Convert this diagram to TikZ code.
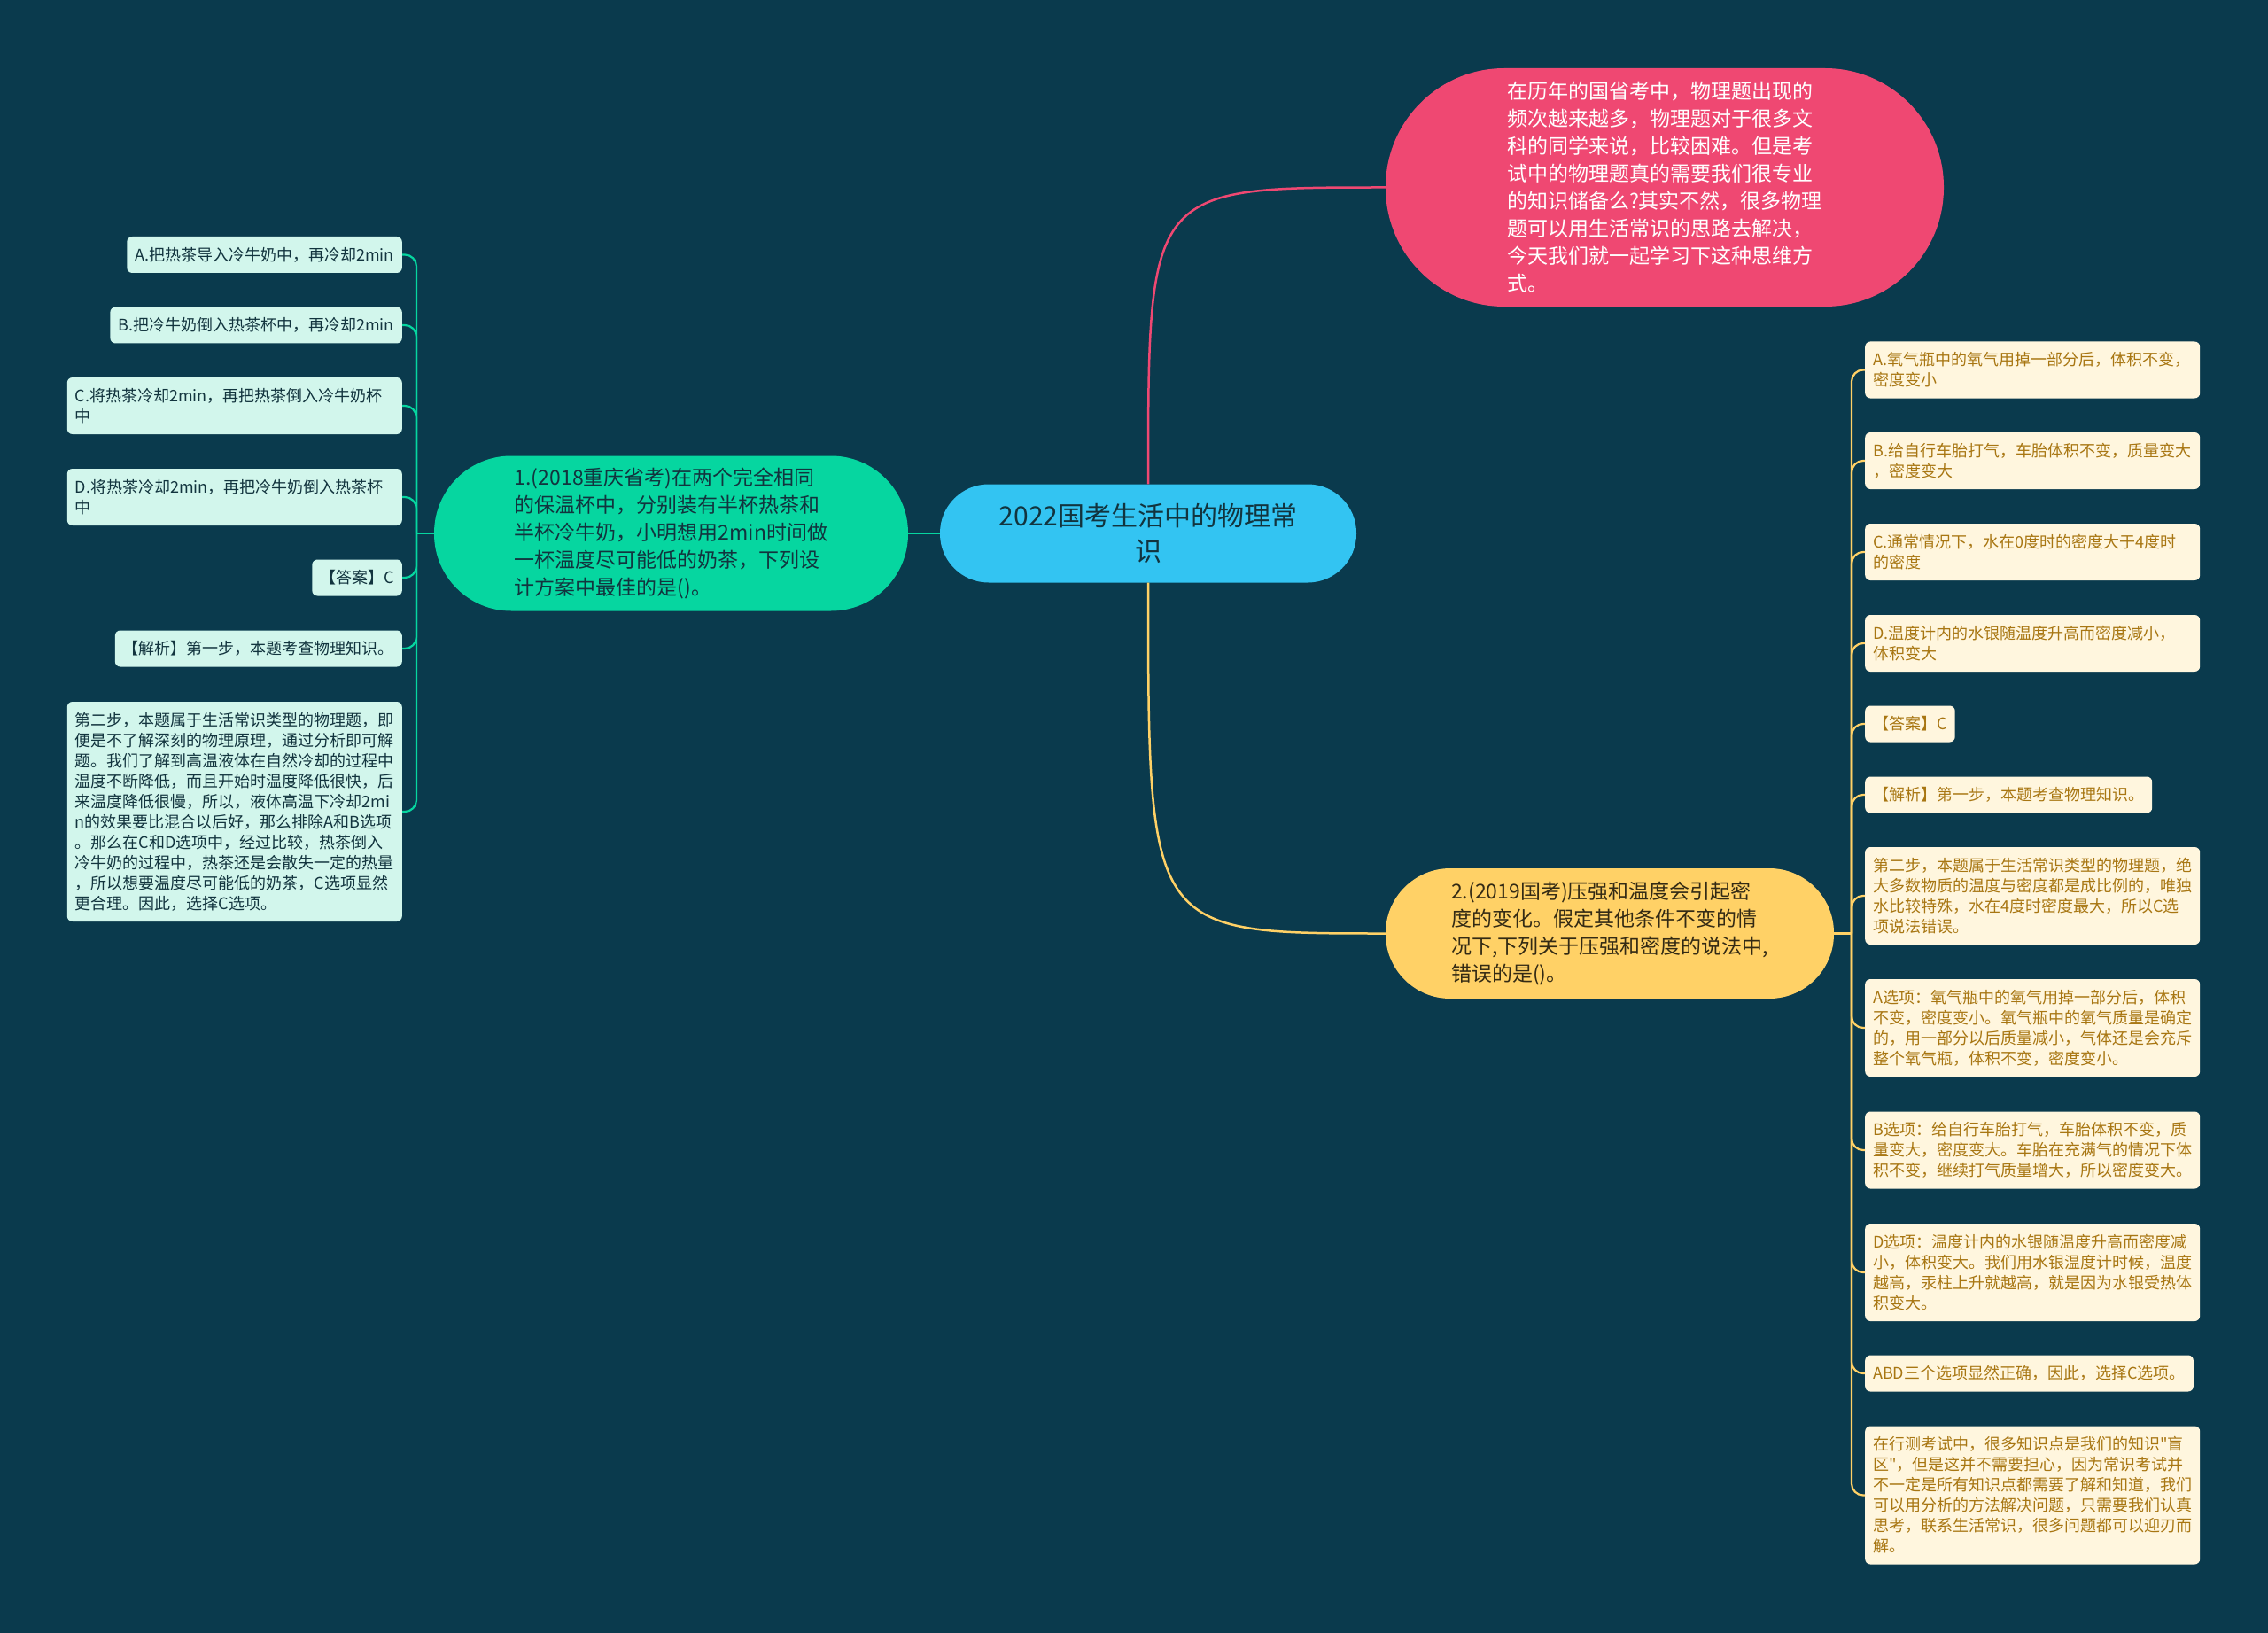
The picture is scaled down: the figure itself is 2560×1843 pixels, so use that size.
\documentclass[tikz,border=0pt]{standalone}
\usepackage{fontspec}
\setmainfont{Noto Sans CJK SC}[Ligatures=TeXOff]
\usepackage{tikz}

\definecolor{bgcol}{RGB}{10,58,77}
\definecolor{rootcol}{RGB}{51,196,242}
\definecolor{pinkcol}{RGB}{239,72,114}
\definecolor{greencol}{RGB}{6,214,160}
\definecolor{yellowcol}{RGB}{255,209,102}
\definecolor{mintcol}{RGB}{210,246,236}
\definecolor{creamcol}{RGB}{255,246,222}
\definecolor{darktext}{RGB}{18,52,62}
\definecolor{goldtext}{RGB}{168,118,18}

\begin{document}
\begin{tikzpicture}[
x=1pt, y=-1pt,
topic/.style={rectangle, inner sep=0pt, align=left, font=\fontsize{23}{31}\selectfont},
leaf/.style={rectangle, rounded corners=6pt, inner xsep=9pt, inner ysep=0pt, align=left,
  font=\fontsize{18}{23}\selectfont, minimum height={(23*#1+18)*1pt}},
leafL/.style={leaf=#1, fill=mintcol, text=darktext, anchor=east},
leafR/.style={leaf=#1, fill=creamcol, text=goldtext, anchor=west},
wide/.style={text width=360pt},
greenline/.style={draw=greencol, line width=2.5pt},
yellowline/.style={draw=yellowcol, line width=2.5pt},
pinkline/.style={draw=pinkcol, line width=2.5pt},
twig/.style={line width=2.2pt, rounded corners=13pt}
]
\fill[bgcol] (0,0) rectangle (2560,1843);

% main topics
\node[topic, fill=rootcol, text=darktext, align=center, minimum width=470pt, minimum height=111pt,
  rounded corners=55pt, font=\fontsize{30}{40}\selectfont] (root) at (1296,602)
  {2022国考生活中的物理常\\识};
\node[topic, fill=pinkcol, text=white, minimum width=630pt, minimum height=269pt,
  rounded corners=134pt] (intro) at (1879,211.5)
  {在历年的国省考中，物理题出现的\\频次越来越多，物理题对于很多文\\科的同学来说，比较困难。但是考\\试中的物理题真的需要我们很专业\\的知识储备么?其实不然，很多物理\\题可以用生活常识的思路去解决，\\今天我们就一起学习下这种思维方\\式。};
\node[topic, fill=greencol, text=darktext, minimum width=535pt, minimum height=175pt,
  rounded corners=87pt] (q1) at (757.5,602)
  {1.(2018重庆省考)在两个完全相同\\的保温杯中，分别装有半杯热茶和\\半杯冷牛奶，小明想用2min时间做\\一杯温度尽可能低的奶茶，下列设\\计方案中最佳的是()。};
\node[topic, fill=yellowcol, text=black!80!yellowcol, minimum width=506pt, minimum height=147pt,
  rounded corners=73pt] (q2) at (1817,1053.5)
  {2.(2019国考)压强和温度会引起密\\度的变化。假定其他条件不变的情\\况下,下列关于压强和密度的说法中,\\错误的是()。};

% left leaves
\node[leafL=1] (lA) at (454,287.5) {A.把热茶导入冷牛奶中，再冷却2min};
\node[leafL=1] (lB) at (454,367) {B.把冷牛奶倒入热茶杯中，再冷却2min};
\node[leafL=2, wide] (lC) at (454,458) {C.将热茶冷却2min，再把热茶倒入冷牛奶杯\\中};
\node[leafL=2, wide] (lD) at (454,561) {D.将热茶冷却2min，再把冷牛奶倒入热茶杯\\中};
\node[leafL=1] (lAns) at (454,652) {【答案】C};
\node[leafL=1] (lJx) at (454,732) {【解析】第一步，本题考查物理知识。};
\node[leafL=10, wide] (lStep) at (454,916)
  {第二步，本题属于生活常识类型的物理题，即\\便是不了解深刻的物理原理，通过分析即可解\\题。我们了解到高温液体在自然冷却的过程中\\温度不断降低，而且开始时温度降低很快，后\\来温度降低很慢，所以，液体高温下冷却2mi\\n的效果要比混合以后好，那么排除A和B选项\\。那么在C和D选项中，经过比较，热茶倒入\\冷牛奶的过程中，热茶还是会散失一定的热量\\，所以想要温度尽可能低的奶茶，C选项显然\\更合理。因此，选择C选项。};

% right leaves
\node[leafR=2, wide] (rA) at (2105,417.5) {A.氧气瓶中的氧气用掉一部分后，体积不变，\\密度变小};
\node[leafR=2, wide] (rB) at (2105,520) {B.给自行车胎打气，车胎体积不变，质量变大\\，密度变大};
\node[leafR=2, wide] (rC) at (2105,623) {C.通常情况下，水在0度时的密度大于4度时\\的密度};
\node[leafR=2, wide] (rD) at (2105,726) {D.温度计内的水银随温度升高而密度减小，\\体积变大};
\node[leafR=1] (rAns) at (2105,817) {【答案】C};
\node[leafR=1] (rJx) at (2105,897) {【解析】第一步，本题考查物理知识。};
\node[leafR=4, wide] (rStep) at (2105,1011)
  {第二步，本题属于生活常识类型的物理题，绝\\大多数物质的温度与密度都是成比例的，唯独\\水比较特殊，水在4度时密度最大，所以C选\\项说法错误。};
\node[leafR=4, wide] (rOptA) at (2105,1160)
  {A选项：氧气瓶中的氧气用掉一部分后，体积\\不变，密度变小。氧气瓶中的氧气质量是确定\\的，用一部分以后质量减小，气体还是会充斥\\整个氧气瓶，体积不变，密度变小。};
\node[leafR=3, wide] (rOptB) at (2105,1298)
  {B选项：给自行车胎打气，车胎体积不变，质\\量变大，密度变大。车胎在充满气的情况下体\\积不变，继续打气质量增大，所以密度变大。};
\node[leafR=4, wide] (rOptD) at (2105,1436)
  {D选项：温度计内的水银随温度升高而密度减\\小，体积变大。我们用水银温度计时候，温度\\越高，汞柱上升就越高，就是因为水银受热体\\积变大。};
\node[leafR=1] (rAbd) at (2105,1550) {ABD三个选项显然正确，因此，选择C选项。};
\node[leafR=6, wide] (rEnd) at (2105,1687.5)
  {在行测考试中，很多知识点是我们的知识"盲\\区"，但是这并不需要担心，因为常识考试并\\不一定是所有知识点都需要了解和知道，我们\\可以用分析的方法解决问题，只需要我们认真\\思考，联系生活常识，很多问题都可以迎刃而\\解。};

% branches from the root
\draw[pinkline] (root.north) .. controls (root.north |- intro.west) .. (intro.west);
\draw[yellowline] (root.south) .. controls (root.south |- q2.west) .. (q2.west);
\draw[greenline] (root.west) -- (q1.east);

% left twigs
\coordinate (lj) at (470,602);
\draw[greenline] (q1.west) -- (lj);
\draw[greenline, twig] (lj) |- (lA.east);
\draw[greenline, twig] (lj) |- (lB.east);
\draw[greenline, twig] (lj) |- (lC.east);
\draw[greenline, twig] (lj) |- (lD.east);
\draw[greenline, twig] (lj) |- (lAns.east);
\draw[greenline, twig] (lj) |- (lJx.east);
\draw[greenline, twig] (lj) |- (lStep.east);

% right twigs
\coordinate (rj) at (2090,1053.5);
\draw[yellowline] (q2.east) -- (rj);
\draw[yellowline, twig] (rj) |- (rA.west);
\draw[yellowline, twig] (rj) |- (rB.west);
\draw[yellowline, twig] (rj) |- (rC.west);
\draw[yellowline, twig] (rj) |- (rD.west);
\draw[yellowline, twig] (rj) |- (rAns.west);
\draw[yellowline, twig] (rj) |- (rJx.west);
\draw[yellowline, twig] (rj) |- (rStep.west);
\draw[yellowline, twig] (rj) |- (rOptA.west);
\draw[yellowline, twig] (rj) |- (rOptB.west);
\draw[yellowline, twig] (rj) |- (rOptD.west);
\draw[yellowline, twig] (rj) |- (rAbd.west);
\draw[yellowline, twig] (rj) |- (rEnd.west);
\end{tikzpicture}
\end{document}
